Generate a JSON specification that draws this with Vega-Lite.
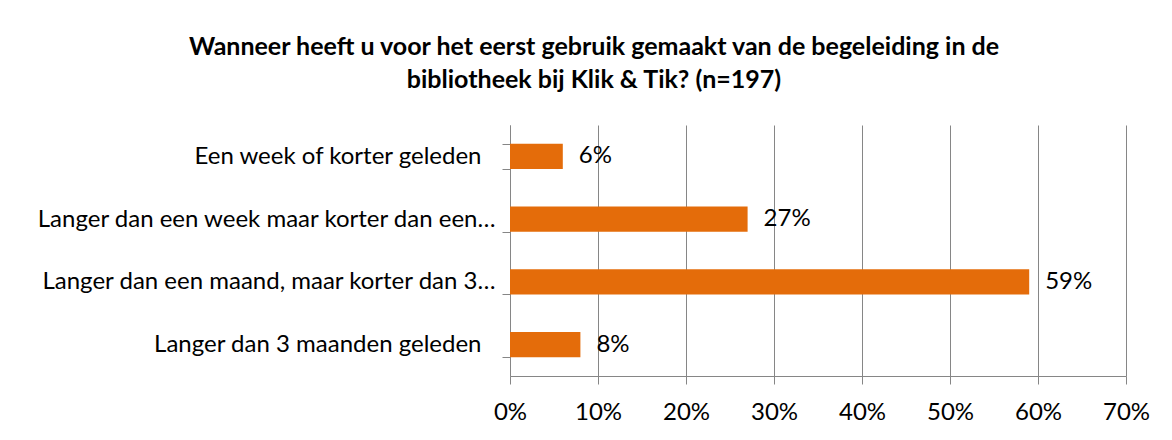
{
  "$schema": "https://vega.github.io/schema/vega-lite/v6.json",
  "autosize": {"type": "none"},
  "width": 616,
  "height": 251,
  "padding": {"left": 510, "top": 125, "right": 46, "bottom": 64},
  "background": "white",
  "title": {
    "text": ["Wanneer heeft u voor het eerst gebruik gemaakt van de begeleiding in de", "bibliotheek bij Klik & Tik? (n=197)"],
    "anchor": "middle",
    "dx": -224,
    "offset": 0,
    "baseline": "alphabetic",
    "font": "Lato",
    "fontSize": 25,
    "fontWeight": "bold",
    "color": "#000000",
    "lineHeight": 33
  },
  "data": {
    "values": [
      {"category": "Een week of korter geleden", "value": 0.06},
      {"category": "Langer dan een week maar korter dan een…", "value": 0.27},
      {"category": "Langer dan een maand, maar korter dan 3…", "value": 0.59},
      {"category": "Langer dan 3 maanden geleden", "value": 0.08}
    ]
  },
  "encoding": {
    "y": {
      "field": "category",
      "type": "nominal",
      "sort": null,
      "scale": {"paddingInner": 0.6, "paddingOuter": 0.3},
      "axis": {
        "title": null,
        "domainColor": "#868686",
        "tickColor": "#868686",
        "tickSize": 8,
        "tickBand": "extent",
        "labelFont": "Lato",
        "labelFontSize": 24,
        "labelColor": "#000000",
        "labelPadding": {"condition": {"test": "indexof(datum.label, '…') >= 0", "value": 7}, "value": 21},
        "labelLimit": 600
      }
    },
    "x": {
      "field": "value",
      "type": "quantitative",
      "scale": {"domain": [0, 0.7], "nice": false},
      "axis": {
        "title": null,
        "format": ".0%",
        "values": [0, 0.1, 0.2, 0.3, 0.4, 0.5, 0.6, 0.7],
        "grid": true,
        "gridColor": "#868686",
        "gridWidth": 1,
        "domainColor": "#868686",
        "tickColor": "#868686",
        "tickSize": 8,
        "labelFlush": false,
        "labelOverlap": false,
        "labelFont": "Lato",
        "labelFontSize": 24,
        "labelColor": "#000000",
        "labelPadding": 16
      }
    }
  },
  "layer": [
    {"mark": {"type": "bar", "color": "#E46C0A"}},
    {
      "mark": {"type": "text", "align": "left", "dx": 16, "font": "Lato", "fontSize": 24, "color": "#000000"},
      "encoding": {"text": {"field": "value", "type": "quantitative", "format": ".0%"}}
    }
  ],
  "config": {"view": {"stroke": null}}
}
